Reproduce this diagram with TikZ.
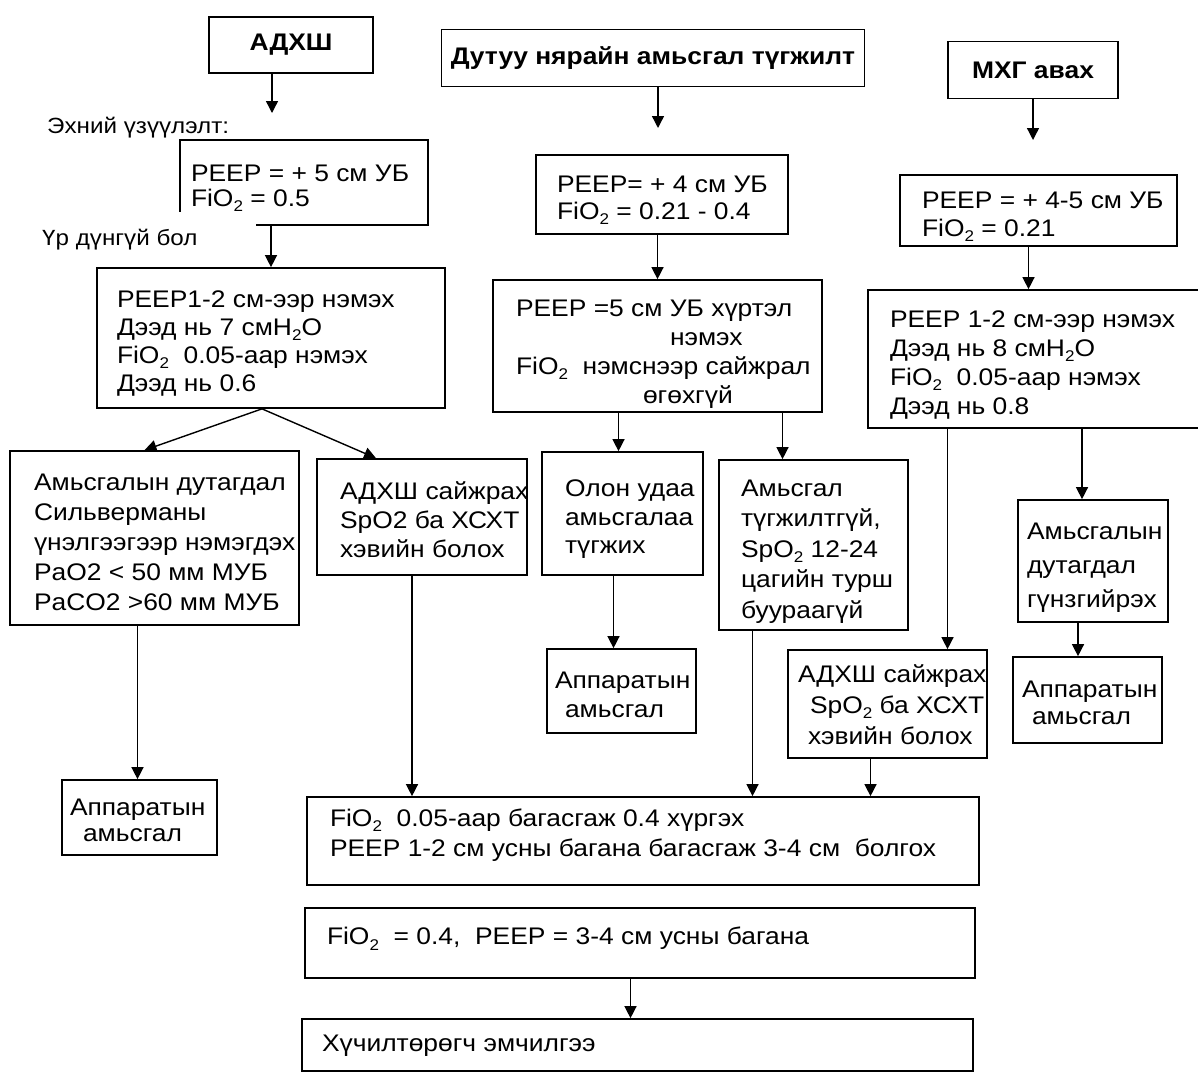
\documentclass[tikz,border=0pt]{standalone}
\usepackage{fontspec}
\setmainfont{Liberation Sans}[FakeStretch=1.1]
\usetikzlibrary{arrows.meta}
% lowered index digit (FiO2, H2O, SpO2)
\newcommand\dn[1]{\raisebox{-0.22em}{\fontsize{15.5}{15.5}\selectfont #1}}
% left-aligned block of lines, set to a fixed width;
% the optional height allowance nudges the lines inside their box
\newcommand\blk[3][12pt]{\makebox[#2][l]{\raisebox{0pt}[\dimexpr\height+#1\relax][\depth]{\begin{tabular}{@{}l@{}}#3\end{tabular}}}}

\begin{document}
\begin{tikzpicture}[x=1pt,y=-1pt,
  box/.style={draw, line width=1.7pt, inner ysep=0pt, anchor=center},
  ls/.style={font=\fontsize{24}{#1}\selectfont},
  title/.style={draw, line width=1.9pt, inner sep=0pt, font=\fontsize{24}{28}\selectfont\bfseries},
  arr/.style={-{Triangle[width=12pt,length=12pt]}, line width=1.4pt},
  lab/.style={anchor=base west, inner sep=0pt, font=\fontsize{22}{26}\selectfont}]
\useasboundingbox[fill=white] (0,0) rectangle (1198,1081);

% ---- headings
\node[title, minimum width=164pt, minimum height=56pt] (T1) at (291,45) {АДХШ};
\node[title, minimum width=423pt, minimum height=57pt] (T2) at (653,58) {Дутуу нярайн амьсгал түгжилт};
\node[title, minimum width=170pt, minimum height=57pt] (T3) at (1033,70) {МХГ авах};

% ---- left column
\node[box, ls=25, inner xsep=11pt, minimum height=85pt] (A1) at (304,182.5)
  {\blk{226pt}{PEEP = + 5 см УБ\\FiO\dn{2} = 0.5}};
\node[box, ls=28, inner xsep=20pt, minimum height=140pt] (A2) at (271,338)
  {\blk{308pt}{PEEP1-2 см-ээр нэмэх\\Дээд нь 7 смH\dn{2}O\\FiO\dn{2}~ 0.05-аар нэмэх\\Дээд нь 0.6}};
\node[box, ls=30, inner xsep=24pt, minimum height=174pt] (B1) at (154.5,538)
  {\blk{241pt}{Амьсгалын дутагдал\\Сильверманы\\үнэлгээгээр нэмэгдэх\\PaO2 < 50 мм МУБ\\PaCO2 >60 мм МУБ}};
\node[box, ls=29, inner xsep=23pt, minimum height=116pt] (B2) at (422,517)
  {\blk{164pt}{АДХШ сайжрах\\SpO2 ба ХСХТ\\хэвийн болох}};
\node[box, ls=26, inner xsep=8pt, minimum height=75pt] (C1) at (139.5,817.5)
  {\blk{139pt}{Аппаратын\\\hspace*{13pt}амьсгал}};

% side labels; the second one sits on a white patch over the box corner
\node[lab] (L1) at (47,133) {Эхний үзүүлэлт:};
\fill[white] (34,212) rectangle (256,254);
\node[lab] (L2) at (42,245) {Үр дүнгүй бол};

% ---- middle column
\node[box, ls=27, inner xsep=21pt, minimum height=79pt] (M1) at (662,194.5)
  {\blk{210pt}{PEEP= + 4 см УБ\\FiO\dn{2} = 0.21 - 0.4}};
\node[box, ls=29, inner xsep=23pt, minimum height=132pt] (M2) at (657.5,346)
  {\blk[16pt]{283pt}{PEEP =5 см УБ хүртэл\\\hspace*{154pt}нэмэх\\FiO\dn{2}~ нэмснээр сайжрал\\\hspace*{127pt}өгөхгүй}};
\node[box, ls=28.5, inner xsep=23pt, minimum height=123pt] (M3) at (622.5,513.5)
  {\blk{115pt}{Олон удаа\\амьсгалаа\\түгжих}};
\node[box, ls=29, inner xsep=8pt, minimum height=84pt] (M4) at (621.5,691)
  {\blk{133pt}{Аппаратын\\\hspace*{10pt}амьсгал}};
\node[box, ls=30.5, inner xsep=22pt, minimum height=170pt] (M5) at (813.5,545)
  {\blk{145pt}{Амьсгал\\түгжилтгүй,\\SpO\dn{2} 12-24\\цагийн турш\\буураагүй}};

% ---- right column
\node[box, ls=28, inner xsep=22pt, minimum height=71pt] (R1) at (1038.5,210.5)
  {\blk{233pt}{PEEP = + 4-5 см УБ\\FiO\dn{2} = 0.21}};
\node[box, ls=29, inner xsep=22pt, minimum height=138pt] (R2) at (1041.5,359)
  {\blk{303pt}{PEEP 1-2 см-ээр нэмэх\\Дээд нь 8 смH\dn{2}O\\FiO\dn{2}~ 0.05-аар нэмэх\\Дээд нь 0.8}};
\node[box, ls=34, inner xsep=9pt, minimum height=122pt] (R3) at (1093,561)
  {\blk{132pt}{Амьсгалын\\дутагдал\\гүнзгийрэх}};
\node[box, ls=31, inner xsep=10pt, minimum height=108pt] (R4) at (887.5,704)
  {\blk[6pt]{179pt}{АДХШ сайжрах\\\hspace*{12pt}SpO\dn{2} ба ХСХТ\\\hspace*{10pt}хэвийн болох}};
\node[box, ls=27, inner xsep=9pt, minimum height=86pt] (R5) at (1087.5,700)
  {\blk{131pt}{Аппаратын\\\hspace*{10pt}амьсгал}};

% ---- common weaning steps
\node[box, ls=30, inner xsep=23pt, minimum height=88pt] (D1) at (643,841)
  {\blk[-12pt]{626pt}{FiO\dn{2}~ 0.05-аар багасгаж 0.4 хүргэх\\PEEP 1-2 см усны багана багасгаж 3-4 см~ болгох}};
\node[box, ls=29, inner xsep=22pt, minimum height=70pt] (D2) at (640,943)
  {\blk[-8pt]{626pt}{FiO\dn{2}~ = 0.4,~ PEEP = 3-4 см усны багана}};
\node[box, ls=29, inner xsep=20pt, minimum height=52pt] (D3) at (637.5,1045)
  {\blk[2pt]{631pt}{Хүчилтөрөгч эмчилгээ}};

% ---- connectors
\coordinate (t1end) at (272,113);
\coordinate (t2end) at (658,128);
\coordinate (t3end) at (1033,140);
\draw[arr] (t1end |- T1.south) -- (t1end);
\draw[arr] (t2end |- T2.south) -- (t2end);
\draw[arr] (t3end |- T3.south) -- (t3end);

\draw[arr] (A1.south -| A2.north) -- (A2.north);
\draw[arr] ([xshift=-9pt]A2.south) -- ([xshift=-10pt]B1.north);
\draw[arr] ([xshift=-9pt]A2.south) -- ([xshift=-46pt]B2.north);
\draw[arr] ([xshift=-2pt]C1.north |- B1.south) -- ([xshift=-2pt]C1.north);
\draw[arr] ([xshift=-10pt]B2.south) -- ([xshift=-10pt]B2.south |- D1.north);

\draw[arr] (M1.south -| M2.north) -- (M2.north);
\draw[arr] ([xshift=-4pt]M3.north |- M2.south) -- ([xshift=-4pt]M3.north);
\draw[arr] ([xshift=-31pt]M5.north |- M2.south) -- ([xshift=-31pt]M5.north);
\draw[arr] ([xshift=-9pt]M3.south) -- ([xshift=-9pt]M3.south |- M4.north);
\draw[arr] ([xshift=-61pt]M5.south) -- ([xshift=-61pt]M5.south |- D1.north);

\draw[arr] ([xshift=-10pt]R1.south) -- ([xshift=-10pt]R1.south |- R2.north);
\draw[arr] ([xshift=60pt]R4.north |- R2.south) -- ([xshift=60pt]R4.north);
\draw[arr] ([xshift=-11pt]R3.north |- R2.south) -- ([xshift=-11pt]R3.north);
\draw[arr] ([xshift=-15pt]R3.south) -- ([xshift=-15pt]R3.south |- R5.north);
\draw[arr] ([xshift=-17pt]R4.south) -- ([xshift=-17pt]R4.south |- D1.north);

\draw[arr] ([xshift=-7pt]D3.north |- D2.south) -- ([xshift=-7pt]D3.north);
\end{tikzpicture}
\end{document}
